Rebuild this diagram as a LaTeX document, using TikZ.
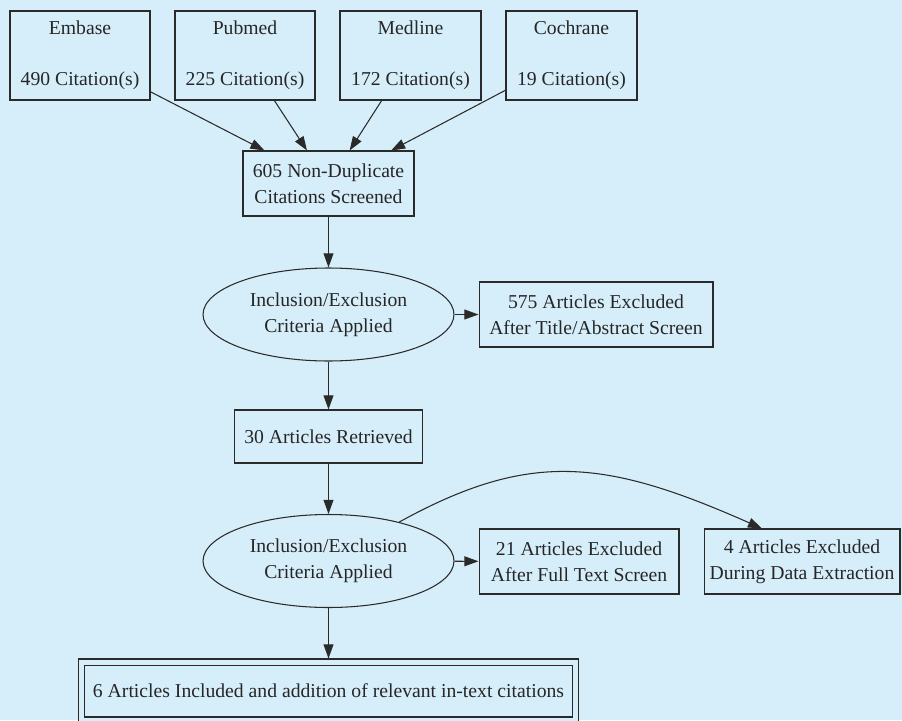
\documentclass[tikz,border=0pt]{standalone}
\usepackage{fontspec}
\setmainfont{Liberation Serif}
\usetikzlibrary{arrows.meta}
\usetikzlibrary{shapes.geometric}
\definecolor{bgblue}{HTML}{D6EEFA}
\definecolor{linegray}{HTML}{2A2A2A}

\begin{document}
\begin{tikzpicture}[x = 0.02cm, y = -0.02cm,
    every node/.style = {font=\fontsize{11.2}{15}\selectfont, text=black!85, align=center, inner sep=0pt},
    src/.style = {draw=linegray, line width=0.6pt, minimum height=1.78cm},
    box/.style = {draw=linegray, line width=0.6pt, minimum height=1.3cm},
    crit/.style = {draw=linegray, line width=0.6pt, ellipse, minimum width=5.02cm, minimum height=1.86cm},
    arr/.style = {draw=linegray, line width=0.6pt, -{Triangle[length=8pt, width=5.6pt]}}]
            \fill[bgblue] (0,0) rectangle (902,720);
            \useasboundingbox (0,0) rectangle (902,720);
            \node[src, minimum width=2.8cm] (embase) at (80,55.5) {Embase\\[14pt]490 Citation(s)};
            \node[src, minimum width=2.8cm] (pubmed) at (245,55.5) {Pubmed\\[14pt]225 Citation(s)};
            \node[src, minimum width=2.82cm] (medline) at (410.5,55.5) {Medline\\[14pt]172 Citation(s)};
            \node[src, minimum width=2.62cm] (cochrane) at (571.5,55.5) {Cochrane\\[14pt]19 Citation(s)};
            \node[box, minimum width=3.42cm] (screened) at (328.5,183.5) {605 Non-Duplicate\\Citations Screened};
            \node[crit] (crit1) at (328.5,314.5) {Inclusion/Exclusion\\Criteria Applied};
            \node[box, minimum width=4.68cm] (excl1) at (596,314.5) {575 Articles Excluded\\After Title/Abstract Screen};
            \node[box, minimum width=3.76cm, minimum height=1.06cm] (retrieved) at (328.5,436.5) {30 Articles Retrieved};
            \node[crit] (crit2) at (328.5,561) {Inclusion/Exclusion\\Criteria Applied};
            \node[box, minimum width=4cm] (excl2) at (579,561.5) {21 Articles Excluded\\After Full Text Screen};
            \node[box, minimum width=3.92cm] (excl3) at (802,561.5) {4 Articles Excluded\\During Data Extraction};
            \node[draw=linegray, line width=0.6pt, double=bgblue, double distance=0.1cm,
                  minimum width=9.88cm, minimum height=1.16cm] (included) at (328.5,691)
                  {6 Articles Included and addition of relevant in-text citations};
            \draw[arr] (embase) -- (screened);
            \draw[arr] (pubmed) -- (screened);
            \draw[arr] (medline) -- (screened);
            \draw[arr] (cochrane) -- (screened);
            \draw[arr] (screened) -- (crit1);
            \draw[arr] (crit1) -- (excl1);
            \draw[arr] (crit1) -- (retrieved);
            \draw[arr] (retrieved) -- (crit2);
            \draw[arr] (crit2) -- (excl2);
            \draw[arr] (crit2) .. controls (530,450) and (605,459) .. ([xshift=-0.8cm]excl3.north);
            \draw[arr, shorten >=1.7pt] (crit2) -- (included);
        \end{tikzpicture}
\end{document}
